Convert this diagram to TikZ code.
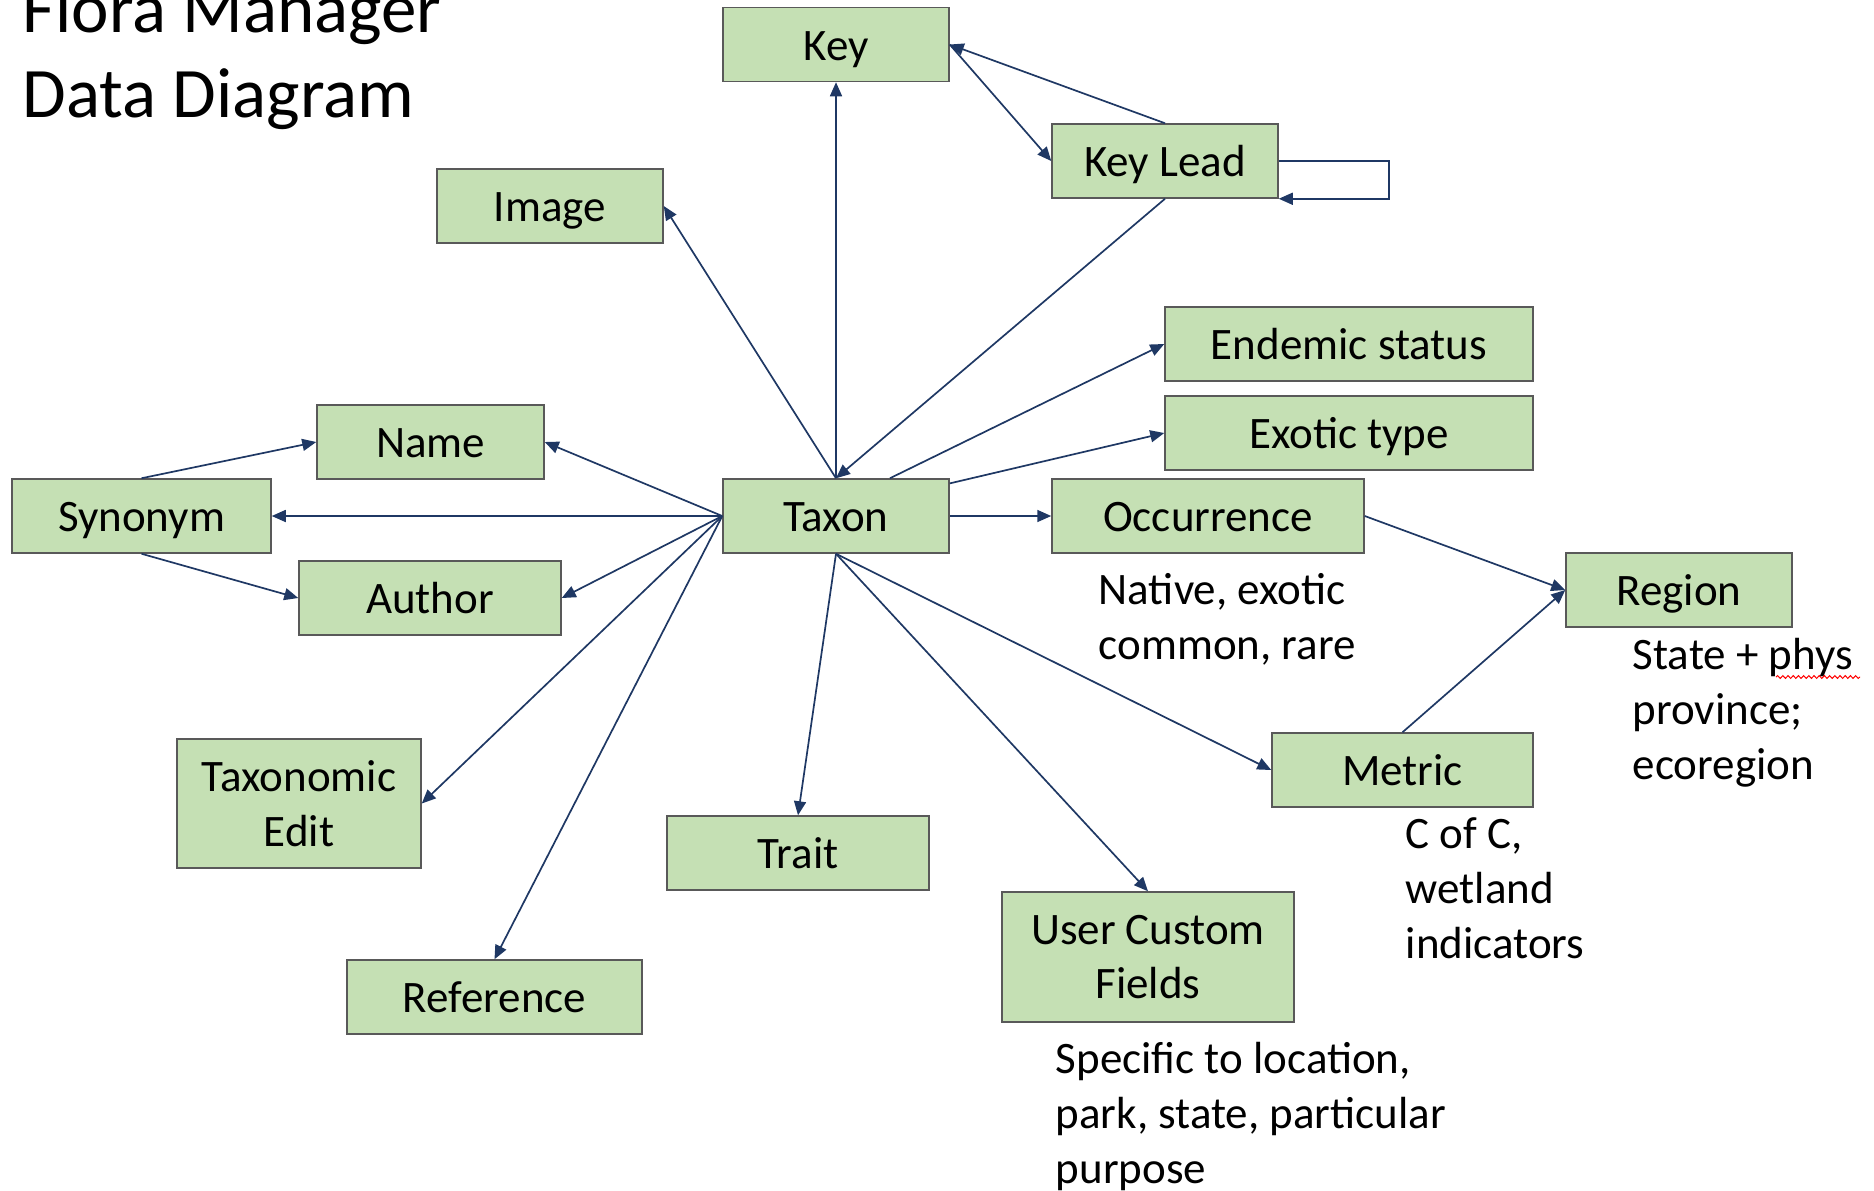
\documentclass[tikz,border=0pt]{standalone}
\usepackage{fontspec}
\setmainfont{Carlito}
\usetikzlibrary{arrows.meta,decorations.pathmorphing}

\tikzset{every picture/.style={line width=0.75pt}}
\tikzset{
  entity/.style={draw={rgb,255:red,89;green,89;blue,89}, fill={rgb,255:red,197;green,224;blue,180}, line width=0.75pt, inner sep=0pt, minimum height=37pt, font=\fontsize{22.5}{27.3}\selectfont, text height=15.6pt, text depth=0pt},
  entity2/.style={draw={rgb,255:red,89;green,89;blue,89}, fill={rgb,255:red,197;green,224;blue,180}, line width=0.75pt, inner sep=0pt, align=center, font=\fontsize{22.5}{27.3}\selectfont},
  note/.style={anchor=base west, inner sep=0pt, align=left, font=\fontsize{22.5}{27.3}\selectfont},
  link/.style={color={rgb,255:red,31;green,56;blue,100}, line width=0.85pt, -{Triangle[length=7pt,width=6pt]}}
}

\begin{document}
\begin{tikzpicture}[x=0.5pt,y=0.5pt,yscale=-1]
\clip (0,0) rectangle (1874,1190);

% Title (anchor is on the last line)
\node (title) at (22,117) [note, font=\fontsize{35.5}{42.5}\selectfont] {Flora Manager\\Data Diagram};

%Shape: Rectangle [id:key]
\node (key) at (836,44.5) [entity, minimum width=113pt] {Key};
%Shape: Rectangle [id:keylead]
\node (keylead) at (1165,161) [entity, minimum width=113pt] {Key Lead};
%Shape: Rectangle [id:image]
\node (image) at (550,206) [entity, minimum width=113pt] {Image};
%Shape: Rectangle [id:endemic]
\node (endemic) at (1349,344) [entity, minimum width=184pt] {Endemic status};
%Shape: Rectangle [id:exotic]
\node (exotic) at (1349,433) [entity, minimum width=184pt] {Exotic type};
%Shape: Rectangle [id:name]
\node (name) at (430.5,442) [entity, minimum width=113.5pt] {Name};
%Shape: Rectangle [id:synonym]
\node (synonym) at (141.5,516) [entity, minimum width=129.5pt] {Synonym};
%Shape: Rectangle [id:taxon]
\node (taxon) at (836,516) [entity, minimum width=113pt] {Taxon};
%Shape: Rectangle [id:occurrence]
\node (occurrence) at (1208,516) [entity, minimum width=156pt] {Occurrence};
%Shape: Rectangle [id:author]
\node (author) at (430,598) [entity, minimum width=131pt] {Author};
%Shape: Rectangle [id:region]
\node (region) at (1679,590) [entity, minimum width=113pt] {Region};
%Shape: Rectangle [id:metric]
\node (metric) at (1402.5,770) [entity, minimum width=130.5pt] {Metric};
%Shape: Rectangle [id:taxedit]
\node (taxedit) at (299,803.5) [entity2, minimum width=122pt, minimum height=64.5pt] {Taxonomic\\Edit};
%Shape: Rectangle [id:trait]
\node (trait) at (798,853) [entity, minimum width=131pt] {Trait};
%Shape: Rectangle [id:custom]
\node (custom) at (1148,957) [entity2, minimum width=146pt, minimum height=65pt] {User Custom\\Fields};
%Shape: Rectangle [id:reference]
\node (reference) at (494.5,997) [entity, minimum width=147.5pt] {Reference};

% Text Node
\node (occnote) at (1098,659) [note] {Native, exotic\\common, rare};
% Text Node
\node (regionnote) at (1632,779) [note] {State + phys\\province;\\ecoregion};
% Text Node
\node (metricnote) at (1405,958) [note] {C of C,\\wetland\\indicators};
% Text Node
\node (customnote) at (1055,1183) [note] {Specific to location,\\park, state, particular\\purpose};
% spell check mark
\draw [color=red, line width=0.5pt, decorate, decoration={snake, amplitude=0.7pt, segment length=2.6pt}] (1776,677) -- (1860,677);

%Straight Lines
\draw [link] (taxon.north) -- (key.south);
\draw [link] (keylead.north) -- (key.east);
\draw [link] (key.east) -- (keylead.west);
\draw [link] (keylead.east) -- ++(110,0) |- (keylead.south east);
\draw [link] (keylead.south) -- (taxon.north);
\draw [link] (taxon.north) -- (image.east);
\draw [link] (taxon.35) -- (endemic.west);
\draw [link] (taxon.16) -- (exotic.west);
\draw [link] (taxon.east) -- (occurrence.west);
\draw [link] (occurrence.east) -- (region.west);
\draw [link] (metric.north) -- (region.west);
\draw [link] (taxon.south) -- (metric.west);
\draw [link] (taxon.south) -- (custom.north);
\draw [link] (taxon.south) -- (trait.north);
\draw [link] (taxon.west) -- (name.east);
\draw [link] (taxon.west) -- (synonym.east);
\draw [link] (taxon.west) -- (author.east);
\draw [link] (taxon.west) -- (taxedit.east);
\draw [link] (taxon.west) -- (reference.north);
\draw [link] (synonym.north) -- (name.west);
\draw [link] (synonym.south) -- (author.west);

\end{tikzpicture}
\end{document}
